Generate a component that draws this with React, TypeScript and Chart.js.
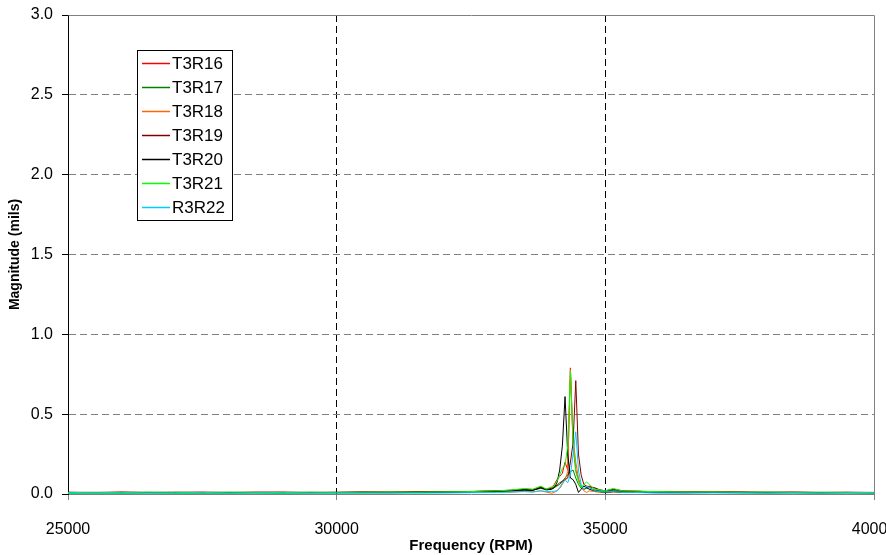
import React, { useEffect, useRef } from "react";
import { Chart, registerables } from "chart.js";

Chart.register(...registerables);

// Frequency samples (RPM), shared by all series
const frequency = [
  25000, 25500, 26000, 26500, 27000, 27500, 28000, 28500, 29000, 29500, 30000, 30500, 31000, 31500, 32000, 32500,
  32750, 33000, 33250, 33500, 33650, 33800, 33900, 34000, 34050, 34100, 34150, 34200, 34250, 34300, 34350, 34400,
  34450, 34500, 34550, 34600, 34650, 34700, 34800, 34900, 35000, 35150, 35300, 35500, 35750, 36000,
  36500, 37000, 37500, 38000, 38500, 39000, 39500, 40000,
];

const seriesNames = ["T3R16", "T3R17", "T3R18", "T3R19", "T3R20", "T3R21", "R3R22"];

const t3r16 = [
  0.010, 0.008, 0.011, 0.009, 0.010, 0.008, 0.009, 0.011, 0.010, 0.009, 0.010, 0.012, 0.011, 0.013, 0.012, 0.015,
  0.018, 0.020, 0.022, 0.030, 0.028, 0.045, 0.030, 0.040, 0.060, 0.090, 0.110, 0.130, 0.200, 0.150, 0.790, 0.300,
  0.150, 0.090, 0.050, 0.030, 0.040, 0.050, 0.035, 0.025, 0.020, 0.030, 0.020, 0.018, 0.015, 0.014,
  0.012, 0.015, 0.012, 0.010, 0.011, 0.009, 0.010, 0.008,
];
const t3r17 = [
  0.008, 0.009, 0.008, 0.010, 0.009, 0.008, 0.010, 0.009, 0.008, 0.010, 0.009, 0.010, 0.011, 0.010, 0.012, 0.013,
  0.015, 0.016, 0.018, 0.022, 0.025, 0.035, 0.028, 0.030, 0.040, 0.050, 0.060, 0.080, 0.100, 0.120, 0.140, 0.150,
  0.100, 0.060, 0.035, 0.030, 0.035, 0.040, 0.025, 0.020, 0.018, 0.022, 0.016, 0.014, 0.012, 0.011,
  0.010, 0.011, 0.009, 0.010, 0.009, 0.008, 0.009, 0.008,
];
const t3r18 = [
  0.006, 0.007, 0.006, 0.008, 0.007, 0.006, 0.007, 0.008, 0.006, 0.007, 0.008, 0.007, 0.008, 0.009, 0.010, 0.012,
  0.010, 0.015, 0.012, 0.018, 0.014, 0.020, 0.012, 0.005, 0.010, 0.020, 0.035, 0.060, 0.090, 0.140, 0.780, 0.350,
  0.200, 0.100, 0.050, 0.020, 0.010, 0.020, 0.015, 0.010, 0.008, 0.012, 0.010, 0.015, 0.010, 0.012,
  0.008, 0.014, 0.010, 0.008, 0.009, 0.007, 0.008, 0.006,
];
const t3r19 = [
  0.011, 0.010, 0.012, 0.010, 0.011, 0.012, 0.010, 0.011, 0.012, 0.010, 0.011, 0.013, 0.012, 0.014, 0.013, 0.016,
  0.018, 0.020, 0.024, 0.028, 0.025, 0.040, 0.030, 0.035, 0.045, 0.055, 0.070, 0.080, 0.090, 0.100, 0.200, 0.320,
  0.710, 0.250, 0.120, 0.060, 0.050, 0.045, 0.040, 0.025, 0.020, 0.028, 0.022, 0.018, 0.016, 0.014,
  0.013, 0.012, 0.013, 0.011, 0.012, 0.010, 0.011, 0.010,
];
const t3r20 = [
  0.007, 0.008, 0.007, 0.008, 0.007, 0.008, 0.007, 0.008, 0.007, 0.008, 0.008, 0.009, 0.008, 0.010, 0.011, 0.012,
  0.014, 0.016, 0.020, 0.025, 0.022, 0.040, 0.025, 0.030, 0.040, 0.070, 0.150, 0.300, 0.610, 0.250, 0.100, 0.090,
  0.060, 0.010, 0.030, 0.050, 0.040, 0.030, 0.020, 0.015, 0.010, 0.015, 0.012, 0.010, 0.009, 0.008,
  0.008, 0.009, 0.008, 0.007, 0.008, 0.007, 0.008, 0.007,
];
const t3r21 = [
  0.009, 0.010, 0.009, 0.011, 0.010, 0.009, 0.011, 0.010, 0.009, 0.011, 0.010, 0.011, 0.012, 0.011, 0.013, 0.015,
  0.018, 0.020, 0.025, 0.035, 0.030, 0.050, 0.030, 0.045, 0.050, 0.080, 0.120, 0.160, 0.180, 0.300, 0.770, 0.320,
  0.140, 0.080, 0.040, 0.060, 0.075, 0.060, 0.030, 0.025, 0.020, 0.035, 0.020, 0.020, 0.016, 0.015,
  0.012, 0.013, 0.011, 0.012, 0.010, 0.011, 0.010, 0.009,
];
const r3r22 = [
  0.004, 0.005, 0.004, 0.005, 0.004, 0.005, 0.004, 0.005, 0.004, 0.005, 0.005, 0.005, 0.006, 0.005, 0.006, 0.008,
  0.009, 0.010, 0.012, 0.015, 0.012, 0.020, 0.015, 0.015, 0.018, 0.020, 0.040, 0.070, 0.090, 0.070, 0.120, 0.250,
  0.390, 0.150, 0.060, 0.030, 0.050, 0.040, 0.020, 0.015, 0.012, 0.015, 0.010, 0.010, 0.008, 0.007,
  0.006, 0.007, 0.006, 0.005, 0.006, 0.005, 0.006, 0.005,
];

const seriesValues = [t3r16, t3r17, t3r18, t3r19, t3r20, t3r21, r3r22];
const seriesColors = ["#FF0000", "#008000", "#FF6600", "#800000", "#000000", "#00FF00", "#00CCFF"];

const xTicks = [25000, 30000, 35000, 40000];
const yTicks = [0, 0.5, 1.0, 1.5, 2.0, 2.5, 3.0];

const FONT = "'Liberation Sans', Arial, sans-serif";

const frameAndLegend = {
  id: "frameAndLegend",
  beforeDatasetsDraw(chart: any) {
    const { ctx, chartArea } = chart;
    ctx.save();
    ctx.setLineDash([]);
    ctx.strokeStyle = "#808080";
    ctx.lineWidth = 1;
    ctx.beginPath();
    ctx.moveTo(Math.round(chartArea.left) + 0.5, Math.round(chartArea.top) + 0.5);
    ctx.lineTo(Math.round(chartArea.right) + 0.5, Math.round(chartArea.top) + 0.5);
    ctx.lineTo(Math.round(chartArea.right) + 0.5, Math.round(chartArea.bottom) + 0.5);
    ctx.stroke();
    ctx.restore();
  },
  afterDraw(chart: any) {
    const { ctx } = chart;
    ctx.save();
    ctx.setLineDash([]);
    const bx = 137.5, by = 50.5, bw = 95, bh = 170;
    ctx.fillStyle = "#FFFFFF";
    ctx.fillRect(bx, by, bw, bh);
    ctx.strokeStyle = "#000000";
    ctx.lineWidth = 1;
    ctx.strokeRect(bx, by, bw, bh);
    ctx.font = `17px ${FONT}`;
    ctx.textBaseline = "middle";
    ctx.textAlign = "left";
    seriesNames.forEach((name, i) => {
      const y = 63.5 + i * 24;
      ctx.strokeStyle = seriesColors[i];
      ctx.lineWidth = 1.5;
      ctx.beginPath();
      ctx.moveTo(142, y);
      ctx.lineTo(170, y);
      ctx.stroke();
      ctx.fillStyle = "#000000";
      ctx.fillText(name, 172, y + 0.5);
    });
    ctx.restore();
  },
};

export default function App() {
  const canvasRef = useRef<HTMLCanvasElement | null>(null);

  useEffect(() => {
    const canvas = canvasRef.current;
    if (!canvas) return;
    const datasets = seriesNames.map((name, i) => ({
      label: name,
      data: frequency.map((f, j) => ({ x: f, y: seriesValues[i][j] })),
      borderColor: seriesColors[i],
      backgroundColor: seriesColors[i],
      borderWidth: 1,
      pointRadius: 0,
      tension: 0,
      fill: false,
      order: seriesNames.length - i,
    }));

    const chart = new Chart(canvas, {
      type: "line",
      data: { datasets },
      options: {
        animation: false,
        responsive: false,
        maintainAspectRatio: false,
        layout: { padding: { top: 15, right: 12, left: 0, bottom: 0 } },
        plugins: { legend: { display: false }, tooltip: { enabled: false } },
        scales: {
          x: {
            type: "linear",
            min: 25000,
            max: 40000,
            afterBuildTicks: (scale: any) => {
              scale.ticks = xTicks.map((v) => ({ value: v }));
            },
            afterFit: (scale: any) => {
              scale.height = 61;
              scale.paddingLeft = 0;
              scale.paddingRight = 0;
            },
            ticks: {
              autoSkip: false,
              maxRotation: 0,
              padding: 20,
              color: "#000",
              font: { family: FONT, size: 16 },
              callback: (v: any) => String(v),
            },
            grid: {
              color: (c: any) =>
                c.tick && (c.tick.value === 25000 || c.tick.value === 40000) ? "rgba(0,0,0,0)" : "#000000",
              tickColor: "#808080",
              tickLength: 6,
              lineWidth: 1,
            },
            border: { display: true, color: "#808080", dash: [7, 4] },
            title: {
              display: true,
              text: "Frequency (RPM)",
              color: "#000",
              font: { family: FONT, size: 15, weight: "bold" },
              padding: { top: 0, bottom: 0 },
            },
          },
          y: {
            type: "linear",
            min: 0,
            max: 3,
            afterBuildTicks: (scale: any) => {
              scale.ticks = yTicks.map((v) => ({ value: v }));
            },
            afterFit: (scale: any) => {
              scale.width = 68;
              scale.paddingTop = 0;
              scale.paddingBottom = 0;
            },
            ticks: {
              padding: 9,
              color: "#000",
              font: { family: FONT, size: 16 },
              callback: (v: any) => Number(v).toFixed(1),
            },
            grid: {
              color: (c: any) =>
                c.tick && (c.tick.value === 0 || c.tick.value === 3) ? "rgba(0,0,0,0)" : "#808080",
              tickColor: "#000000",
              tickLength: 6,
              lineWidth: 1,
            },
            border: { display: true, color: "#000000", dash: [7, 4] },
            title: {
              display: true,
              text: "Magnitude (mils)",
              color: "#000",
              font: { family: FONT, size: 14, weight: "bold" },
              padding: { top: 7, bottom: 0 },
            },
          },
        },
      },
      plugins: [frameAndLegend],
    });
    return () => chart.destroy();
  }, []);

  return (
    <div style={{ position: "fixed", left: 0, top: 0, width: 886, height: 555, background: "#fff" }}>
      <canvas ref={canvasRef} width={886} height={555} style={{ display: "block" }} />
    </div>
  );
}
